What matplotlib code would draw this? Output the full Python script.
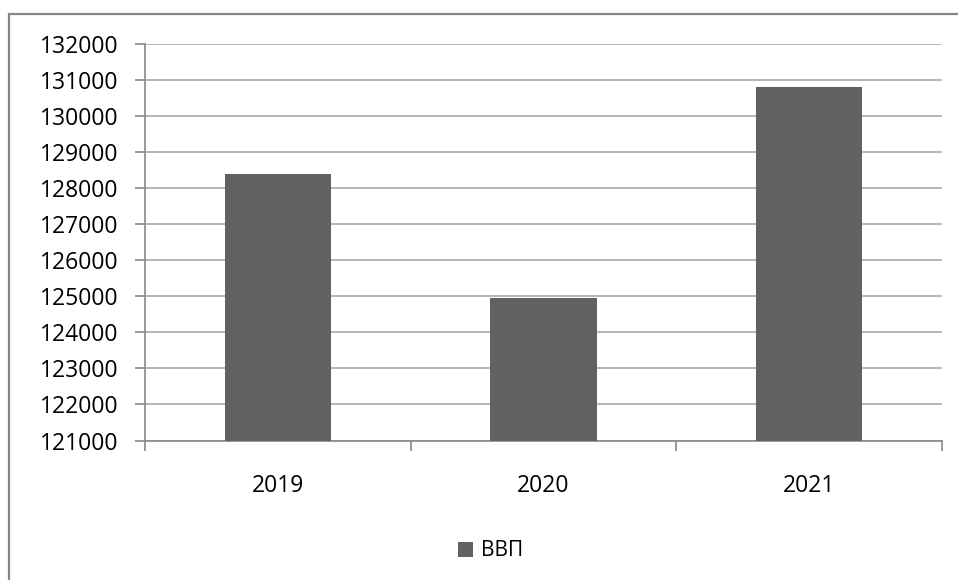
import matplotlib
matplotlib.use("Agg")
import matplotlib.pyplot as plt
from matplotlib.patches import Rectangle, Patch

categories = ["2019", "2020", "2021"]
values = [128400, 124940, 130810]
series_name = "ВВП"
y_ticks = list(range(121000, 132001, 1000))

W, H = 958, 580
fig = plt.figure(figsize=(W / 100, H / 100), dpi=100)
plt.rcParams['font.family'] = ['Open Sans', 'DejaVu Sans']

# outer chart frame
fig.patches.append(Rectangle((9 / W, -0.05), 1.2, (H - 14) / H + 0.05, transform=fig.transFigure,
                             fill=False, edgecolor="#878787", linewidth=1.6))

left, right, top, bottom = 145, 942, 44, 440.5
ax = fig.add_axes([left / W, (H - bottom) / H, (right - left) / W, (bottom - top) / H])

x = list(range(len(categories)))
ax.bar(x, [v - y_ticks[0] for v in values], bottom=y_ticks[0], width=0.4, color="#616161", zorder=3)
ax.set_xlim(-0.5, len(categories) - 0.5)
ax.set_ylim(y_ticks[0], y_ticks[-1])
ax.set_yticks(y_ticks)
ax.set_yticklabels([str(t) for t in y_ticks])
ax.yaxis.grid(True, color="#b0b0b0", linewidth=1.3, zorder=0)
ax.set_axisbelow(True)

ax.set_xticks(x)
ax.set_xticklabels(categories)
ax.set_xticks([i - 0.5 for i in range(len(categories) + 1)], minor=True)
ax.tick_params(axis='x', which='major', length=0, pad=24, labelsize=16.5, colors="#000000")
ax.tick_params(axis='x', which='minor', length=7, width=1.2, color="#888888", direction='out')
ax.tick_params(axis='y', which='major', length=7, width=1.2, color="#888888", pad=12,
               labelsize=16.5, labelcolor="#000000")

for s in ["top", "right"]:
    ax.spines[s].set_visible(False)
for s in ["left", "bottom"]:
    ax.spines[s].set_color("#888888")
    ax.spines[s].set_linewidth(1.2)

fig.legend(handles=[Patch(facecolor="#616161", label=series_name)], loc="center",
           bbox_to_anchor=(491 / W, (H - 551) / H), frameon=False, fontsize=15,
           handlelength=0.7, handleheight=0.7, handletextpad=0.4)

fig.savefig("out.png", dpi=100)
